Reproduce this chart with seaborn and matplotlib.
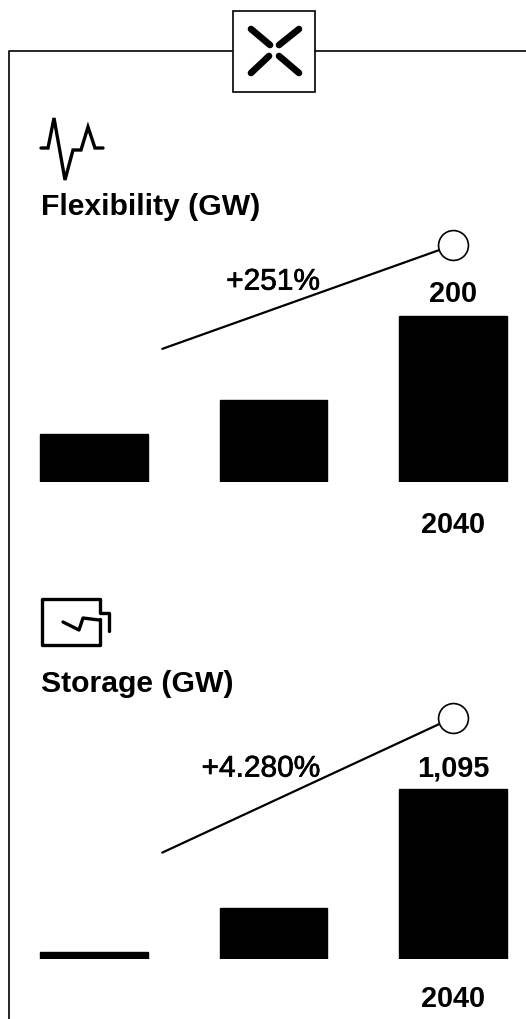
import matplotlib
matplotlib.use('Agg')
import matplotlib.pyplot as plt
from matplotlib.patches import Rectangle
import matplotlib.patheffects as pe
import seaborn as sns

# datos
periodos = ['p1', 'p2', 'p3']
etiquetas_x = ['', '', '2040']

flex_valores = [57, 99, 200]
flex_etiquetas = ['', '', '200']
flex_tendencia_x = [0.38, 2]
flex_tendencia_y = [160, 285]
flex_titulo = 'Flexibility (GW)'
flex_cambio = '+251%'

stor_valores = [45, 328, 1095]
stor_etiquetas = ['', '', '1,095']
stor_tendencia_x = [0.38, 2]
stor_tendencia_y = [683, 1552]
stor_titulo = 'Storage (GW)'
stor_cambio = '+4.280%'

W, H = 526, 1020
sns.set_style('white')
plt.rcParams['font.family'] = ['Liberation Sans', 'DejaVu Sans']
plt.rcParams['text.color'] = 'black'
plt.rcParams['xtick.color'] = 'black'
FS = 20.8

fig = plt.figure(figsize=(W / 100, H / 100), dpi=100)


def ejes_px(y_arriba, y_base):
    return fig.add_axes([0, 1 - y_base / H, 1, (y_base - y_arriba) / H])


def grafico(ax, valores, etiquetas, tx, ty, cambio, y_cambio, x_cambio, ymax, pad_x, pad_barra):
    sns.barplot(x=periodos, y=valores, color='black', saturation=1, width=0.6,
                edgecolor='black', linewidth=1, ax=ax)
    ax.set_xlim(-94 / 179.5, 432 / 179.5)
    ax.set_ylim(0, ymax)
    ax.set_xticks(range(3))
    ax.set_xticklabels(etiquetas_x, fontsize=FS, fontweight='bold')
    ax.tick_params(axis='x', length=0, pad=pad_x)
    ax.set_yticks([])
    ax.set_xlabel('')
    ax.set_ylabel('')
    sns.despine(ax=ax, left=True, bottom=True)
    ax.patch.set_alpha(0)
    ax.bar_label(ax.containers[0], labels=etiquetas, padding=pad_barra, fontsize=FS, fontweight='bold')
    sns.lineplot(x=tx, y=ty, color='black', lw=1.6, ax=ax)
    ax.plot(tx[-1], ty[-1], 'o', ms=21.5, mfc='white', mec='black', mew=1.2, zorder=5)
    # peso intermedio: regular con un trazo fino
    ax.text(x_cambio, y_cambio, cambio, ha='right', va='center', fontsize=21.5,
            path_effects=[pe.withStroke(linewidth=0.5, foreground='black')])


ax1 = ejes_px(220, 482.7)
grafico(ax1, flex_valores, flex_etiquetas, flex_tendencia_x, flex_tendencia_y,
        flex_cambio, 241, 1.26, 262.7 / 0.83, 20.5, 6.5)
ax2 = ejes_px(690, 959.7)
grafico(ax2, stor_valores, stor_etiquetas, stor_tendencia_x, stor_tendencia_y,
        stor_cambio, 1224, 1.26, 269.7 / 0.1553, 18, 5.5)

# capa de adornos en pixeles: marco e iconos
capa = fig.add_axes([0, 0, 1, 1], zorder=-1)
capa.set_xlim(0, W)
capa.set_ylim(H, 0)
capa.axis('off')
capa.plot([9, 9, 232], [1020, 52, 52], color='black', lw=1.2)
capa.plot([315, 526], [52, 52], color='black', lw=1.2)
capa.add_patch(Rectangle((233, 11.5), 82, 81, fc='white', ec='black', lw=1.2))
for xs, ys in [([251, 270], [30, 46]), ([299, 279], [30, 46]),
               ([251, 269], [74, 57]), ([299, 279], [74, 57])]:
    capa.plot(xs, ys, color='black', lw=4.8, solid_capstyle='round')

capa.plot([41, 48, 54, 65, 73, 81, 88, 95, 103],
          [149, 149, 119, 181, 151, 151, 128, 149, 149],
          color='black', lw=2.4, solid_joinstyle='miter')
capa.plot([100, 100, 42, 42, 100, 100, 109, 109],
          [620, 646, 646, 600, 600, 614, 614, 632], color='black', lw=2.4)
capa.plot([63, 79, 83, 99], [623, 631, 619, 621], color='black', lw=2.4)

capa.text(41, 207, flex_titulo, fontsize=21.7, fontweight='bold', va='center', ha='left')
capa.text(41, 684, stor_titulo, fontsize=21.7, fontweight='bold', va='center', ha='left')

fig.savefig('out.png', dpi=100)
